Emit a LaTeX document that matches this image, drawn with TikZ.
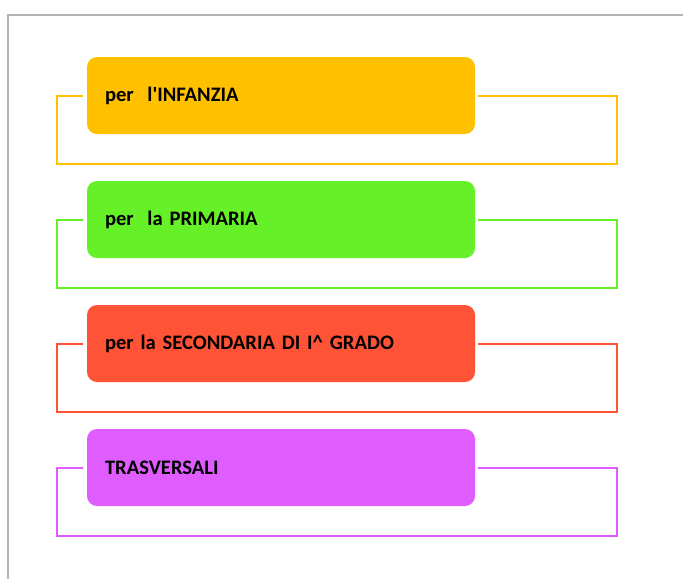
\documentclass[tikz,border=0pt]{standalone}
\usepackage{fontspec}
\setmainfont{Carlito}[WordSpace = 0.6]
\definecolor{infanzia}{HTML}{FFC000}
\definecolor{primaria}{HTML}{66F028}
\definecolor{secondaria}{HTML}{FF5337}
\definecolor{trasversali}{HTML}{DF5CFF}
\definecolor{cornice}{HTML}{B3B3B3}
\tikzset{
  levelbox/.style = {rectangle, rounded corners = 10, minimum width = 388, minimum height = 77,
    inner xsep = 18, text width = 352, align = left, font = \fontsize{20.6}{24}\selectfont\bfseries},
  levelline/.style = {line width = 2}
}
\begin{document}
\begin{tikzpicture}[x = 1pt, y = -1pt]
\useasboundingbox (0,0) rectangle (683,579);
\draw[color = cornice, line width = 2] (683,15) -- (8,15) -- (8,579);
\foreach \n/\col/\txt in {0/infanzia/{per~\ l\textquotesingle INFANZIA}, 1/primaria/{per~\ la PRIMARIA},
  2/secondaria/{per la SECONDARIA DI I\textasciicircum\ GRADO}, 3/trasversali/{TRASVERSALI}}
{
  \pgfmathsetmacro\ymid{96+124*\n};
  \node[levelbox, fill = \col] (box\n) at (281,\ymid-0.5) {\txt};
  \coordinate (sx\n) at (57,\ymid+68);
  \coordinate (dx\n) at (617,\ymid+68);
  \draw[levelline, color = \col] ([xshift = -4]box\n.west) -| (sx\n) -- (dx\n) |- ([xshift = 3]box\n.east);
}
\end{tikzpicture}
\end{document}
